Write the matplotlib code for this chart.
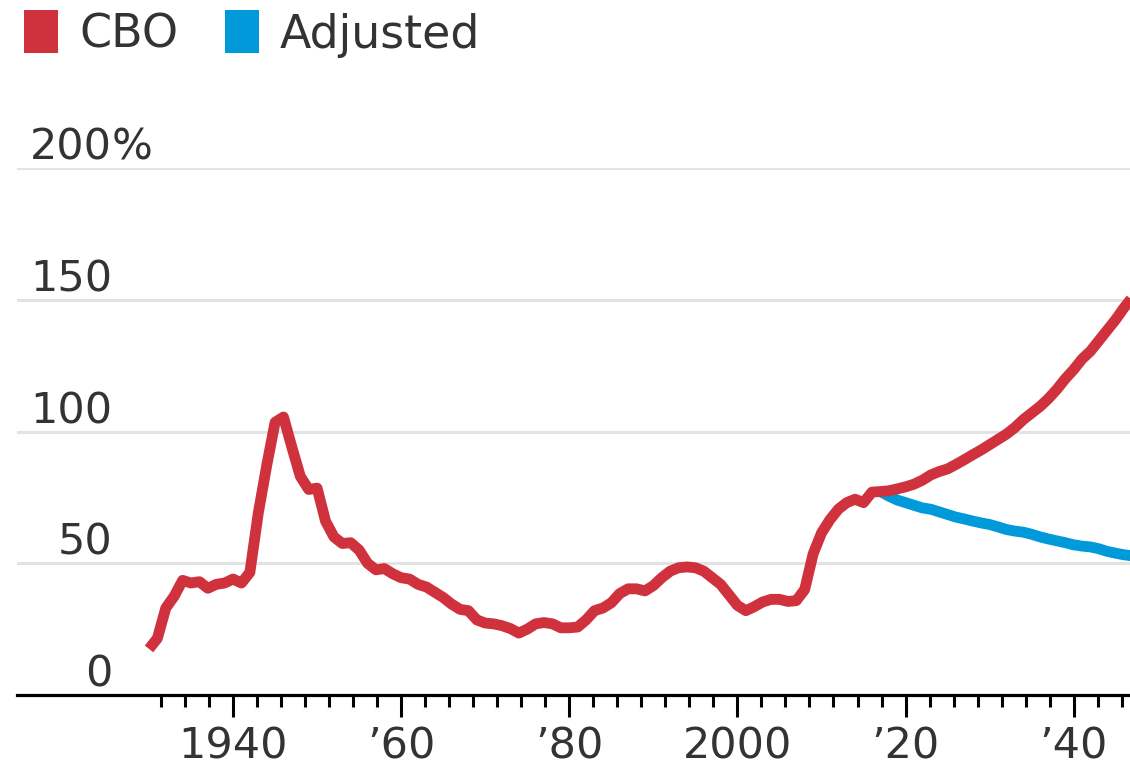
import numpy as np
import matplotlib
matplotlib.use("Agg")
import matplotlib.pyplot as plt
from matplotlib.patches import Rectangle
from matplotlib.ticker import FixedLocator

# debt held by public, % of GDP
cbo_years = list(range(1930, 2048))
cbo_values = [
    17.5, 21.5, 33, 37.5, 43.5, 42.5, 43, 40.5, 42, 42.5,          # 1930s
    44, 42.5, 46.5, 69, 87, 103.5, 105.5, 94, 83, 78,               # 1940s
    78.5, 66, 60, 57.5, 57.8, 55, 50, 47.5, 48, 46,                 # 1950s
    44.5, 44, 42, 41, 39, 37, 34.5, 32.5, 32, 28.5,                 # 1960s
    27.3, 27, 26.3, 25.2, 23.5, 25, 27, 27.5, 27, 25.5,             # 1970s
    25.5, 25.8, 28.5, 32, 33, 35, 38.5, 40.3, 40.3, 39.5,           # 1980s
    41.5, 44.5, 47, 48.3, 48.6, 48.3, 47, 44.5, 42, 38,             # 1990s
    34, 32, 33.5, 35.3, 36.3, 36.3, 35.5, 35.8, 40, 53.5,           # 2000s
    61.5, 66.5, 70.5, 73, 74.3, 73, 77, 77.2, 77.5, 78.2,           # 2010s
    79, 80, 81.5, 83.5, 84.8, 85.8, 87.5, 89.3, 91.2, 93,           # 2020s
    95, 97, 99, 101.5, 104.5, 107, 109.5, 112.5, 116, 120,          # 2030s
    123.5, 127.5, 130.5, 134.5, 138.5, 142.5, 147, 151,             # 2040s
]

adj_years = list(range(2017, 2048))
adj_values = [
    77.2, 75.5, 74, 73, 72, 71, 70.5, 69.5, 68.5, 67.5,
    66.8, 66, 65.3, 64.7, 63.8, 62.8, 62.2, 61.8, 61, 60,
    59.2, 58.5, 57.8, 57, 56.5, 56.2, 55.5, 54.5, 53.8, 53.2,
    52.8,
]

y_ticks = [0, 50, 100, 150, 200]
x_ticks = [1940, 1960, 1980, 2000, 2020, 2040]
x_labels = ["1940", "\u201960", "\u201980", "2000", "\u201920", "\u201940"]

RED = "#cf313d"
BLUE = "#0099da"
TXT = "#333333"
FS = 31

plt.rcParams["font.family"] = ["DejaVu Sans"]

fig = plt.figure(figsize=(11.3, 7.66), dpi=100)
ax = fig.add_axes([17 / 1130, 71 / 766, 1113 / 1130, 527 / 766])

ax.plot(adj_years, adj_values, color=BLUE, lw=7.8, solid_capstyle="butt",
        solid_joinstyle="round", zorder=3)
ax.plot(cbo_years, cbo_values, color=RED, lw=7.8, solid_capstyle="butt",
        solid_joinstyle="round", zorder=4)

ax.set_xlim(1914.3, 2046.7)
ax.set_ylim(0, 200)

for s in ["top", "right", "left"]:
    ax.spines[s].set_visible(False)
ax.spines["bottom"].set_linewidth(2.3)
ax.spines["bottom"].set_color("black")
ax.spines["bottom"].set_zorder(5)

ax.set_yticks(y_ticks)
ax.yaxis.grid(True, color="#e3e3e3", lw=2.2, zorder=0)
ax.tick_params(axis="y", length=0, labelleft=False)

# y labels sit just above their gridline, numbers right-aligned
for v in y_ticks:
    ax.annotate(str(v), xy=(95 / 1113, v), xycoords=("axes fraction", "data"),
                xytext=(0, 6), textcoords="offset points", ha="right",
                va="baseline", fontsize=FS, color=TXT)
ax.annotate("%", xy=(95 / 1113, y_ticks[-1]), xycoords=("axes fraction", "data"),
            xytext=(0, 6), textcoords="offset points", ha="left",
            va="baseline", fontsize=FS, color=TXT)

ax.set_xticks(x_ticks)
ax.set_xticklabels(x_labels)
step = 20 / 7
ax.xaxis.set_minor_locator(FixedLocator(np.arange(1940 - 3 * step, 2047, step)))
ax.tick_params(axis="x", which="major", length=16, width=2.2, color="black",
               labelsize=FS, labelcolor=TXT, pad=6)
ax.tick_params(axis="x", which="minor", length=8.5, width=2.2, color="black")

# legend
for x0, col, lab in [(24, RED, "CBO"), (225, BLUE, "Adjusted")]:
    fig.add_artist(Rectangle((x0 / 1130, (766 - 53) / 766), 34 / 1130, 43 / 766,
                             transform=fig.transFigure, color=col, lw=0))
    fig.text((x0 + 55) / 1130, (766 - 35) / 766, lab, fontsize=33, color=TXT,
             ha="left", va="center")

fig.savefig("out.png", dpi=100)
